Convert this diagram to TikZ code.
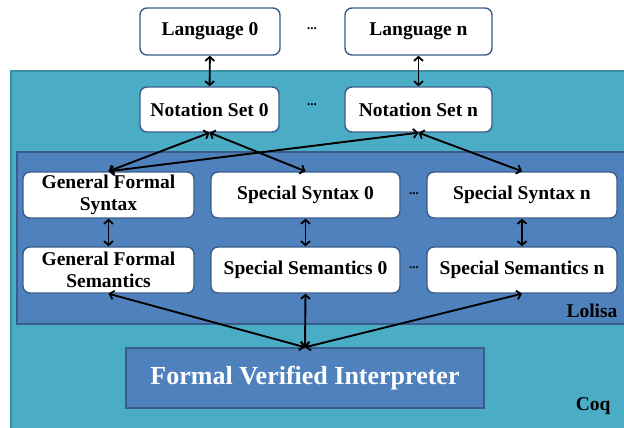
\documentclass[tikz,border=0pt]{standalone}
\usepackage{fontspec}
\setmainfont{Liberation Serif}
\usetikzlibrary{arrows.meta}

\definecolor{coqfill}{HTML}{4BACC6}
\definecolor{coqline}{HTML}{3A8EA5}
\definecolor{lolfill}{HTML}{4F81BD}
\definecolor{lolline}{HTML}{385D8A}

\tikzset{
    box/.style={draw=lolline, line width=1.4pt, fill=white, rounded corners=7pt,
        align=center, inner sep=0pt, font=\bfseries\fontsize{19.5}{21.5}\selectfont},
    link/.style={{Straight Barb[length=4pt,width=9pt,line width=1.8pt]}-{Straight Barb[length=4pt,width=9pt,line width=1.8pt]}, line width=1.9pt},
    dots/.style={font=\bfseries\fontsize{13}{13}\selectfont},
    tag/.style={anchor=base east, font=\bfseries\fontsize{19.5}{21}\selectfont}
}

\begin{document}
\begin{tikzpicture}[x=1pt, y=-1pt]
    \clip (0,0) rectangle (624,428);

    % Coq and Lolisa layers
    \draw [fill=coqfill, draw=coqline, line width=1.5pt] (11,71) rectangle (640,440);
    \node [tag] (coq) at (614,410) {Coq};
    \draw [fill=lolfill, draw=lolline, line width=1.5pt] (17,152) rectangle (640,324);
    \node [tag] (lolisa) at (621,317) {Lolisa};

    \node [box, minimum width=140pt, minimum height=47pt] (lang0) at (210,31.5) {Language 0};
    \node [box, minimum width=147pt, minimum height=47pt] (langn) at (418.5,31.5) {Language n};
    \node [dots] (d1) at (312,29) {...};

    \node [box, minimum width=139pt, minimum height=45pt] (nota0) at (209.5,109.5) {Notation Set 0};
    \node [box, minimum width=147pt, minimum height=45pt] (notan) at (418.5,109.5) {Notation Set n};
    \node [dots] (d2) at (312,105) {...};

    \node [box, minimum width=171pt, minimum height=46pt] (gsyn) at (108.5,195) {General Formal\\Syntax};
    \node [box, minimum width=189pt, minimum height=46pt] (ssyn0) at (305.5,195) {Special Syntax 0};
    \node [box, minimum width=190pt, minimum height=46pt] (ssynn) at (522,195) {Special Syntax n};
    \node [dots] (d3) at (414,194) {...};

    \node [box, minimum width=171pt, minimum height=46pt] (gsem) at (108.5,270) {General Formal\\Semantics};
    \node [box, minimum width=189pt, minimum height=46pt] (ssem0) at (305.5,270) {Special Semantics 0};
    \node [box, minimum width=190pt, minimum height=46pt] (ssemn) at (522,270) {Special Semantics n};
    \node [dots] (d4) at (414,268) {...};

    \node [draw=lolline, line width=1.5pt, fill=lolfill, text=white,
        minimum width=358pt, minimum height=60pt,
        font=\bfseries\fontsize{26}{28}\selectfont] (fvi) at (305,378) {Formal Verified Interpreter};

    \draw [link] (lang0) -- (nota0);
    \draw [link] (langn) -- (notan);
    \draw [link] (nota0.south) -- (gsyn.north);
    \draw [link] (nota0.south) -- (ssyn0.north);
    \draw [link] (notan.south) -- (gsyn.north);
    \draw [link] (notan.south) -- (ssynn.north);
    \draw [link] (gsyn) -- (gsem);
    \draw [link] (ssyn0) -- (ssem0);
    \draw [link] (ssynn) -- (ssemn);
    \draw [link] (gsem.south) -- (fvi.north);
    \draw [link] (ssem0.south) -- (fvi.north);
    \draw [link] (ssemn.south) -- (fvi.north);
\end{tikzpicture}
\end{document}
